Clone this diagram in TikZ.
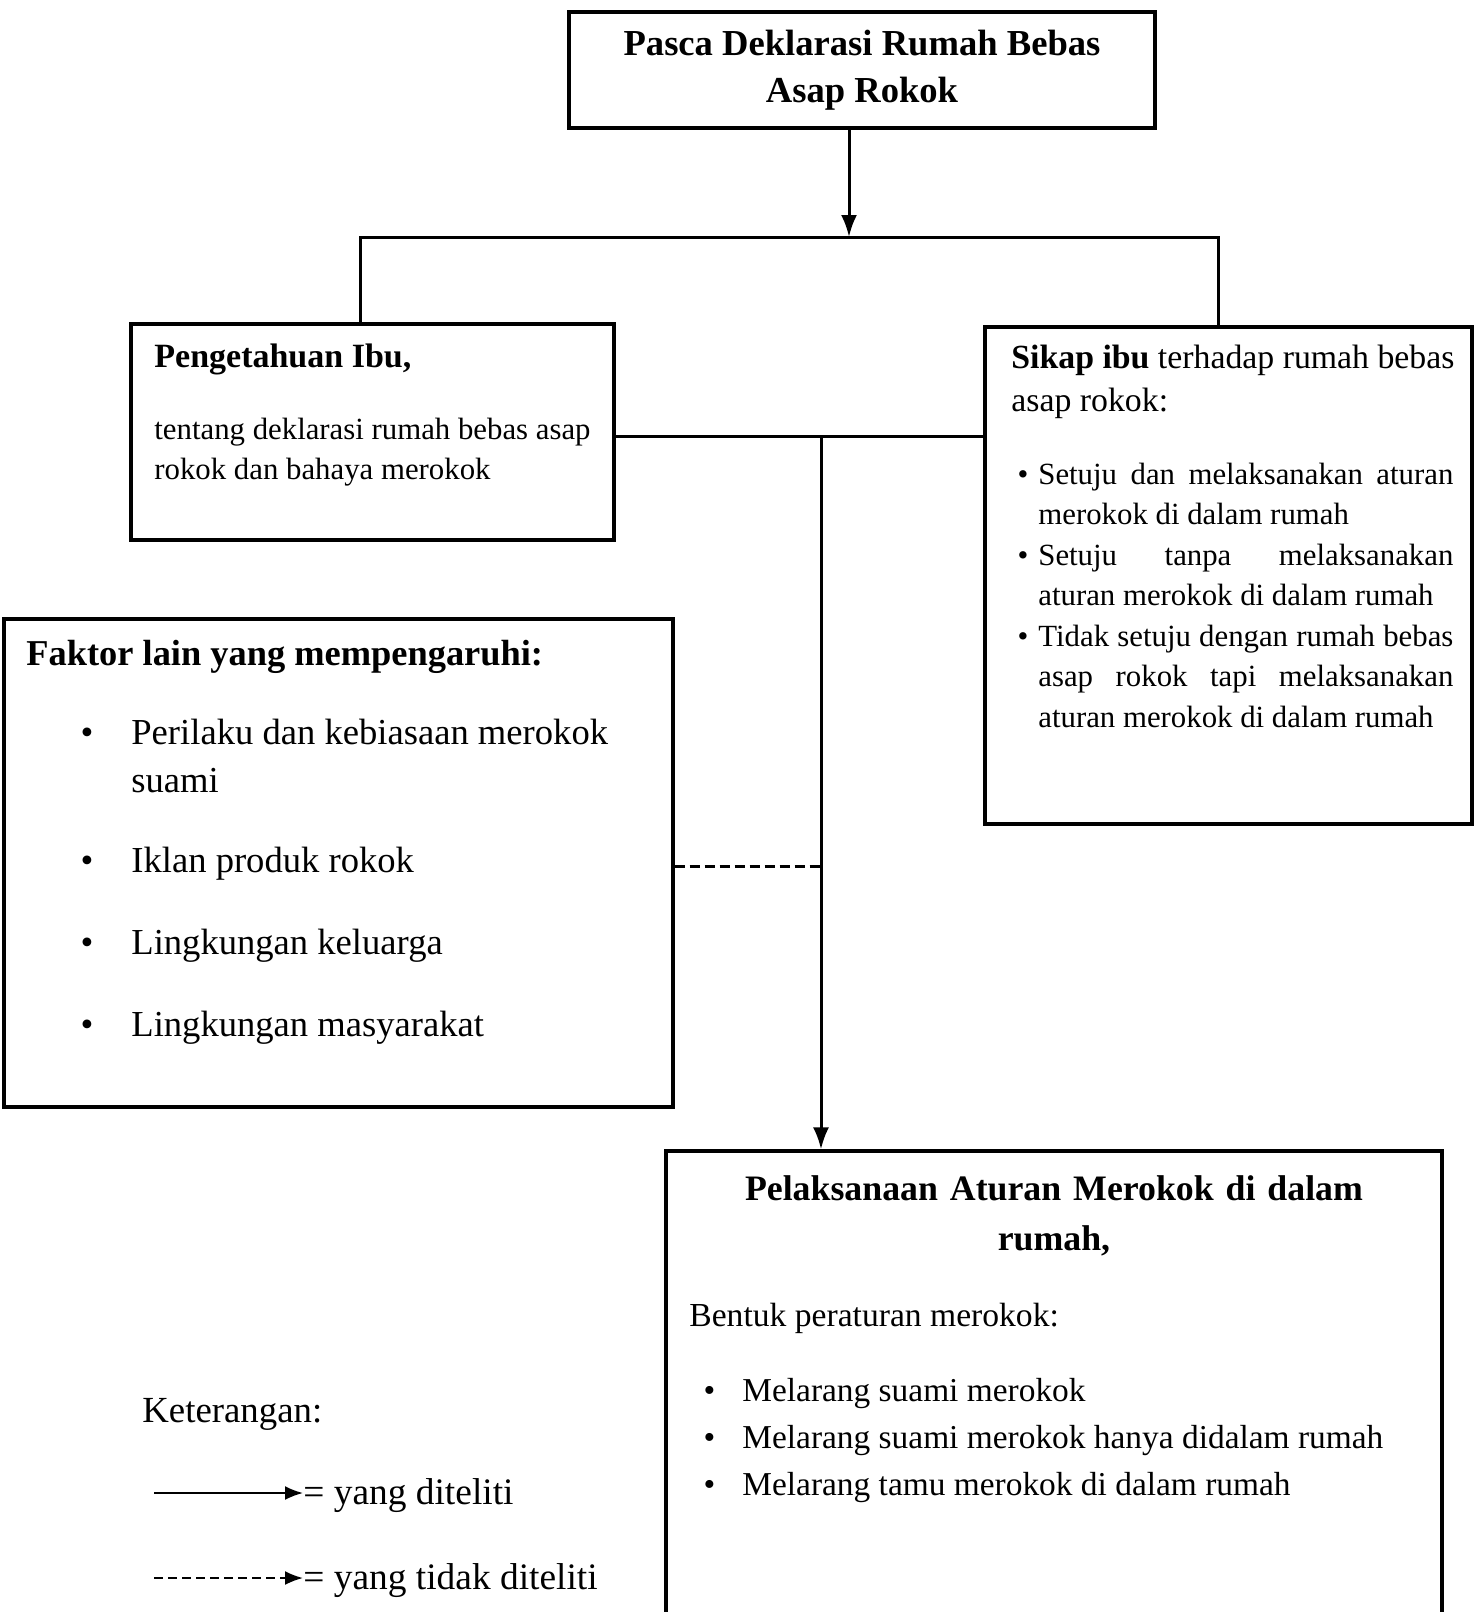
\documentclass[tikz,border=0pt]{standalone}
\usepackage{fontspec}
\setmainfont{Liberation Serif}
\usetikzlibrary{arrows.meta, positioning}
\newcommand{\setfs}[2]{\fontsize{#1}{#2}\selectfont}
\newcommand{\bul}[1]{\leavevmode\llap{\textbullet\hskip #1}}
\newcommand{\jline}[1]{\makebox[207.5pt][s]{#1}}
\tikzstyle{box}      = [draw, line width=1.6pt, inner sep=0pt, execute at begin node={\spaceskip=0pt\xspaceskip=0pt\relax}]
\tikzstyle{txt}      = [anchor=base west, inner sep=0pt, align=left, execute at begin node={\spaceskip=0pt\xspaceskip=0pt\relax}]
\tikzstyle{conn}     = [line width=1.5pt]
\tikzstyle{arrow}    = [line width=1.5pt, -{Latex[length=11pt,width=8pt]}]
\tikzstyle{dashline} = [line width=1.5pt, dash pattern=on 5pt off 2.5pt]
\tikzstyle{keyline}  = [line width=1pt, -{Latex[length=9pt,width=7pt]}]

\begin{document}
\begin{tikzpicture}[x=0.5pt, y=-0.5pt]

\useasboundingbox (0,0) rectangle (1476,1612);
\clip (0,0) rectangle (1476,1612);

\node[box, minimum width=293pt, minimum height=58pt, align=center, font=\bfseries\setfs{18.3pt}{23.5pt}] (pasca) at (862,70) {Pasca Deklarasi Rumah Bebas\\Asap Rokok};

\node[box, minimum width=241.5pt, minimum height=108pt] (ibu) at (372.5,432) {};
\node[box, minimum width=243.5pt, minimum height=248.5pt] (sikap) at (1228.5,575.5) {};
\node[box, minimum width=334.5pt, minimum height=244pt] (faktor) at (338.5,863) {};
\node[box, minimum width=388pt, minimum height=239.5pt] (pel) at (1054,1390.5) {};

\node[txt, font=\bfseries\setfs{17pt}{20pt}] (ibuHead) at (154,367) {Pengetahuan Ibu,};
\node[txt, text width=230pt, font=\setfs{15.4pt}{20pt}] (ibuText) at (154,439) {tentang deklarasi rumah bebas asap\\rokok dan bahaya merokok};

\node[txt, text width=230pt, font=\setfs{16.9pt}{21.5pt}] (sikapHead) at (1011,368) {\textbf{Sikap ibu} terhadap rumah bebas\\asap rokok:};
\node[txt, text width=207.5pt, font=\setfs{15.4pt}{20.25pt}] (sikapList) at (1038,484) {%
\bul{5pt}\jline{Setuju dan melaksanakan aturan}\\
merokok di dalam rumah\\
\bul{5pt}\jline{Setuju tanpa melaksanakan}\\
aturan merokok di dalam rumah\\
\bul{5pt}\jline{Tidak setuju dengan rumah bebas}\\
\jline{asap rokok tapi melaksanakan}\\
aturan merokok di dalam rumah};

\node[txt, font=\bfseries\setfs{18.2pt}{22pt}] (faktorHead) at (26,665) {Faktor lain yang mempengaruhi:};
\node[txt, text width=300pt, font=\setfs{18.3pt}{24pt}] (faktorList) at (131,744) {%
\bul{19pt}Perilaku dan kebiasaan merokok\\
suami\\[16pt]
\bul{19pt}Iklan produk rokok\\[17pt]
\bul{19pt}Lingkungan keluarga\\[17pt]
\bul{19pt}Lingkungan masyarakat};

\node[anchor=base, inner sep=0pt, text width=370pt, align=center, font=\bfseries\setfs{17.9pt}{25pt}] (pelHead) at (1054,1200) {Pelaksanaan Aturan Merokok di dalam\\rumah,};
\node[txt, font=\setfs{16.8pt}{20pt}] (pelSub) at (689,1326) {Bentuk peraturan merokok:};
\node[txt, text width=340pt, font=\setfs{16.7pt}{23.5pt}] (pelList) at (742,1401) {%
\bul{13.5pt}Melarang suami merokok\\
\bul{13.5pt}Melarang suami merokok hanya didalam rumah\\
\bul{13.5pt}Melarang tamu merokok di dalam rumah};

\node[txt, font=\setfs{18.4pt}{22pt}] (ket) at (142,1422) {Keterangan:};
\node[txt, font=\setfs{18.7pt}{22pt}] (keyA) at (303,1504) {= yang diteliti};
\node[txt, font=\setfs{18.7pt}{22pt}] (keyB) at (303,1589) {= yang tidak diteliti};

\coordinate (jTop) at (849,237);
\coordinate (jL) at (360,237);
\coordinate (jR) at (1218,237);
\coordinate (jMid) at (821,436);
\coordinate (jDash) at (821,866);
\coordinate (kA) at (154,1493);
\coordinate (kB) at (154,1578);

\draw[arrow] (pasca.south -| jTop) -- (jTop);
\draw[conn] (ibu.north -| jL) -- (jL) -- (jR) -- (sikap.north -| jR);
\draw[conn] (ibu.east |- jMid) -- (sikap.west |- jMid);
\draw[arrow] (jMid) -- (pel.north -| jMid);
\draw[dashline] (faktor.east |- jDash) -- (jDash);

\draw[keyline] (kA) -- (kA -| keyA.west);
\draw[keyline, dash pattern=on 4.5pt off 2.5pt] (kB) -- (kB -| keyB.west);

\end{tikzpicture}
\end{document}
